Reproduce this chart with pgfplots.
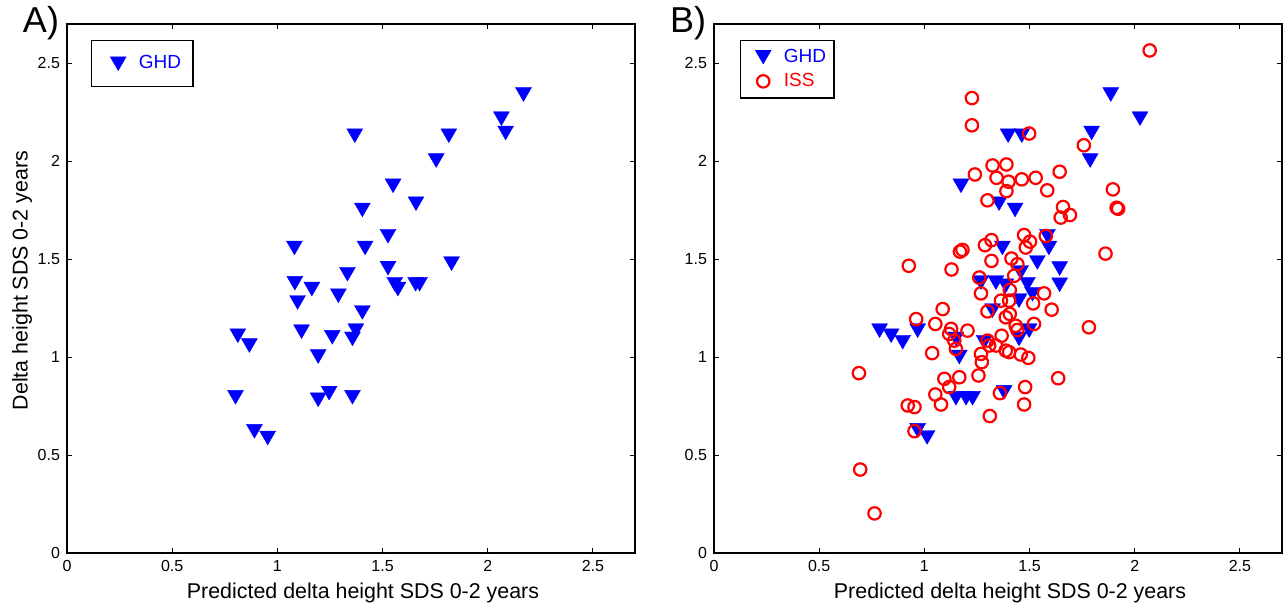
\documentclass[border=0pt]{standalone}
\usepackage{fontspec}
\setmainfont{Liberation Sans}
\usepackage{pgfplots}
\usepackage{pgfplotstable}
\pgfplotsset{compat=1.18}

\pgfplotstableread{
x y
2.170 2.340
2.065 2.217
2.085 2.144
1.368 2.130
1.815 2.130
1.755 2.003
1.550 1.874
1.659 1.783
1.404 1.751
1.526 1.617
1.081 1.557
1.417 1.557
1.828 1.477
1.526 1.454
1.333 1.423
1.083 1.377
1.558 1.372
1.573 1.347
1.657 1.372
1.676 1.372
1.164 1.347
1.290 1.313
1.096 1.279
1.404 1.228
1.115 1.130
1.373 1.135
1.357 1.093
1.261 1.101
0.812 1.109
0.867 1.059
1.194 1.003
0.801 0.795
1.194 0.782
1.246 0.816
1.357 0.795
0.891 0.621
0.954 0.587
}\ghdA

\pgfplotstableread{
x y
1.886 2.340
2.025 2.217
1.795 2.144
1.788 2.003
1.398 2.130
1.463 2.130
1.174 1.874
1.355 1.783
1.431 1.751
1.585 1.617
1.592 1.557
1.371 1.557
1.537 1.483
1.643 1.452
1.458 1.432
1.643 1.369
1.490 1.372
1.340 1.380
1.269 1.380
1.387 1.364
1.514 1.321
1.450 1.288
1.324 1.237
1.498 1.135
1.450 1.093
1.284 1.076
0.787 1.135
0.842 1.109
0.897 1.076
0.968 1.135
1.150 1.093
1.166 1.000
1.150 0.790
1.198 0.790
1.229 0.790
1.379 0.820
0.968 0.626
1.013 0.590
}\ghdB

\pgfplotstableread{
x y
1.226 2.322
1.226 2.183
1.498 2.141
1.324 1.978
1.390 1.983
1.240 1.932
1.343 1.915
1.400 1.895
1.463 1.907
1.529 1.915
1.584 1.851
1.390 1.847
1.300 1.800
1.474 1.623
1.577 1.618
1.502 1.589
1.482 1.559
1.319 1.597
1.288 1.571
1.181 1.547
1.169 1.538
1.319 1.491
1.414 1.503
1.442 1.474
1.129 1.447
0.926 1.466
1.261 1.406
1.427 1.415
2.071 2.565
1.758 2.081
1.643 1.946
1.896 1.856
1.914 1.762
1.921 1.757
1.659 1.766
1.692 1.725
1.648 1.712
1.861 1.528
1.569 1.325
1.517 1.274
1.605 1.242
1.782 1.152
1.521 1.169
1.636 0.892
1.269 1.325
1.406 1.342
1.364 1.288
1.403 1.288
1.300 1.233
1.387 1.203
1.406 1.220
1.434 1.160
1.442 1.138
0.961 1.194
1.052 1.169
1.087 1.245
1.127 1.144
1.118 1.118
1.205 1.135
1.142 1.084
1.150 1.042
1.037 1.020
1.300 1.084
1.308 1.059
1.269 1.016
1.273 0.974
1.367 1.109
1.340 1.059
1.387 1.033
1.403 1.025
1.458 1.013
1.494 0.996
1.257 0.906
1.166 0.897
1.095 0.889
1.118 0.847
1.052 0.809
1.079 0.758
0.921 0.753
0.953 0.745
1.311 0.699
1.359 0.816
1.479 0.847
1.474 0.758
0.689 0.918
0.953 0.622
0.695 0.426
0.763 0.202
}\issB

\pgfplotsset{
  myaxis/.style={
    scale only axis, width=284pt, height=264.5pt,
    xmin=0, xmax=2.7, ymin=0, ymax=2.7,
    xtick={0,0.5,1,1.5,2,2.5}, ytick={0,0.5,1,1.5,2,2.5},
    tick align=inside, major tick length=2.5pt,
    axis line style={line width=0.8pt},
    every tick/.style={black, line width=0.5pt},
    ticklabel style={font=\fontsize{8}{9}\selectfont},
    /pgf/number format/assume math mode=true,
    label style={font=\fontsize{10.7}{12}\selectfont},
    xlabel style={xshift=6pt, yshift=1pt},
    legend style={draw=black, line width=0.6pt, font=\fontsize{9.5}{11}\selectfont,
      anchor=north west, inner xsep=3pt, row sep=0pt},
    legend cell align=left,
    legend image code/.code={%
      \path (0pt,-3pt) (17pt,3pt);
      \draw[#1] plot coordinates {(9pt,0pt)};},
  },
  ghd/.style={only marks, mark=triangle*, mark size=4.6pt,
    mark options={yshift=1.15pt, rotate=180, draw=blue, fill=blue, line width=0.2pt}},
  iss/.style={only marks, mark=o, mark size=3.1pt,
    mark options={draw=red, line width=1.1pt}},
}

\begin{document}
\begin{tikzpicture}
\path[use as bounding box] (0,0) rectangle (642pt,302.5pt);

\begin{axis}[myaxis, at={(33.5pt,26pt)}, anchor=south west,
  xlabel={Predicted delta height SDS 0-2 years},
  ylabel={Delta height SDS 0-2 years},
  ylabel shift=-4pt,
  ylabel style={xshift=4pt},
  legend style={at={(0.0423,0.9698)}, inner xsep=4pt, inner ysep=5.5pt}]
\addplot[ghd] table {\ghdA};
\addlegendentry{\textcolor{blue}{GHD}}
\end{axis}

\begin{axis}[myaxis, at={(357pt,26pt)}, anchor=south west,
  xlabel={Predicted delta height SDS 0-2 years},
  legend style={at={(0.0458,0.9698)}, inner xsep=2pt, inner ysep=2.2pt}]
\addplot[ghd] table {\ghdB};
\addlegendentry{\textcolor{blue}{GHD}}
\addplot[iss] table {\issB};
\addlegendentry{\textcolor{red}{ISS}}
\end{axis}

\node[font=\fontsize{18}{20}\selectfont] at (20.5pt,291pt) {A)};
\node[font=\fontsize{18}{20}\selectfont] at (344pt,291pt) {B)};
\end{tikzpicture}
\end{document}
